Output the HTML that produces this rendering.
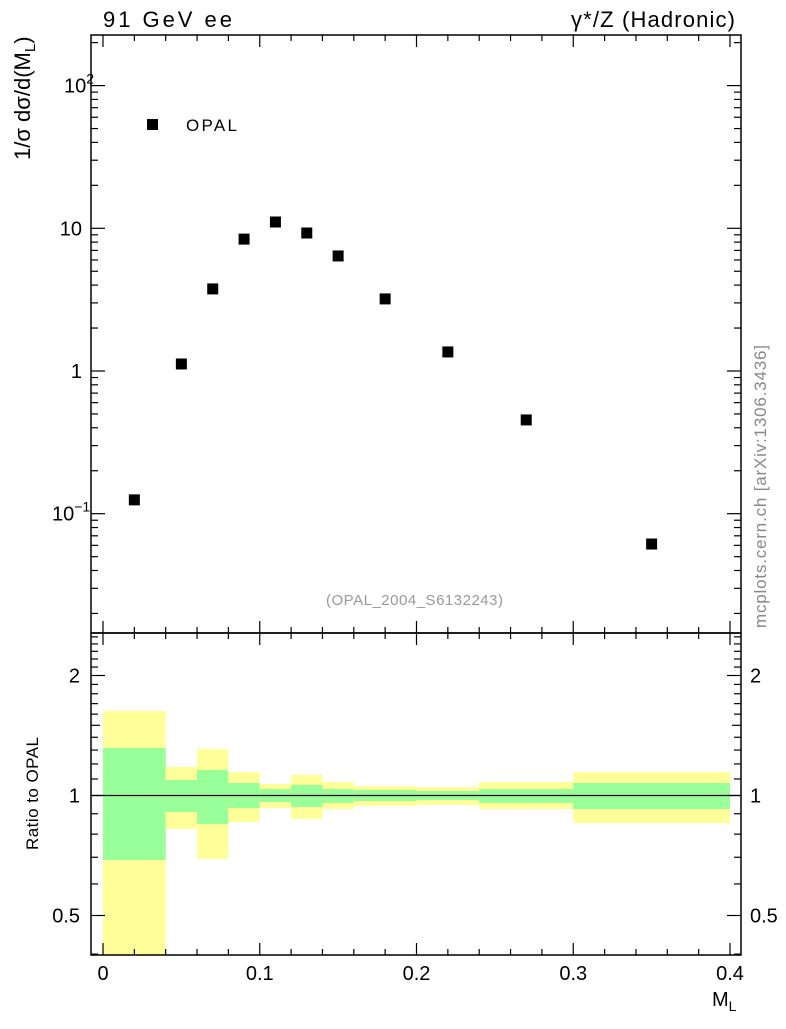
<!DOCTYPE html>
<html><head><meta charset="utf-8"><style>
body{margin:0;background:#fff}
text{font-family:"Liberation Sans",sans-serif}
</style></head><body>
<svg id="c" width="786" height="1024" xmlns="http://www.w3.org/2000/svg">
<g id="bands"></g>
<g id="ticks"></g>
<g id="pts"></g>
<rect x="91" y="35" width="650" height="598" fill="none" stroke="#000" stroke-width="1.5"/>
<rect x="91" y="633" width="650" height="322" fill="none" stroke="#000" stroke-width="1.5"/>
<line x1="91" x2="741" y1="795.5" y2="795.5" stroke="#000" stroke-width="1.3"/>
<text x="103" y="27" font-size="22" textLength="129">91 GeV ee</text>
<text x="571" y="27" font-size="22" textLength="164">γ*/Z (Hadronic)</text>
<rect x="147" y="119" width="11" height="11" fill="#000"/>
<text x="186" y="131" font-size="17" textLength="51">OPAL</text>
<text x="326" y="605" font-size="15" fill="#999" textLength="177">(OPAL_2004_S6132243)</text>
<text transform="translate(766,628) rotate(-90)" font-size="17" fill="#888" textLength="283">mcplots.cern.ch [arXiv:1306.3436]</text>
<text transform="translate(30,160) rotate(-90)" font-size="22">1/σ dσ/d(M<tspan font-size="15" dy="5">L</tspan><tspan dy="-5">)</tspan></text>
<text transform="translate(38,850) rotate(-90)" font-size="17" textLength="113">Ratio to OPAL</text>
<text x="712" y="1006" font-size="20">M<tspan font-size="14" dy="5">L</tspan></text>
</svg>
<script>
const xCats=[0.02,0.05,0.07,0.09,0.11,0.13,0.15,0.18,0.22,0.27,0.35];
const yVals=[0.125,1.12,3.76,8.4,11.07,9.27,6.4,3.2,1.36,0.454,0.0613];
const binEdges=[0,0.04,0.06,0.08,0.1,0.12,0.14,0.16,0.2,0.24,0.3,0.4];
const yelHi=[1.63,1.179,1.308,1.145,1.069,1.126,1.081,1.056,1.05,1.081,1.145];
const grnHi=[1.316,1.094,1.159,1.075,1.038,1.063,1.038,1.032,1.026,1.038,1.075];
const grnLo=[0.689,0.909,0.848,0.930,0.963,0.936,0.958,0.969,0.974,0.958,0.925];
const yelLo=[0.3,0.824,0.693,0.858,0.930,0.873,0.925,0.941,0.947,0.925,0.853];
const xTicks=[0,0.1,0.2,0.3,0.4];
const xTickLabels=["0","0.1","0.2","0.3","0.4"];
const ns="http://www.w3.org/2000/svg";
const X=v=>103+v*1567.5;
const Y=v=>371-142.7*Math.log10(v);
const R=v=>Math.min(955,Math.max(633,795.5-120*Math.log2(v)));
function mk(tag,at,parent){const e=document.createElementNS(ns,tag);for(const k in at)e.setAttribute(k,at[k]);parent.appendChild(e);return e;}
const bands=document.getElementById('bands'),pts=document.getElementById('pts'),tk=document.getElementById('ticks');
for(let i=0;i<binEdges.length-1;i++){
 const x0=X(binEdges[i]),w=X(binEdges[i+1])-x0;
 let e=mk('rect',{x:x0,y:R(yelHi[i]),width:w,height:R(yelLo[i])-R(yelHi[i]),fill:'#ffff99'},bands);
 
 
 e=mk('rect',{x:x0,y:R(grnHi[i]),width:w,height:R(grnLo[i])-R(grnHi[i]),fill:'#99ff99'},bands);
 
 
}
for(let i=0;i<xCats.length;i++){
 const e=mk('rect',{x:X(xCats[i])-5.5,y:Y(yVals[i])-5.5,width:11,height:11,fill:'#000'},pts);
 
 
}
const st={stroke:'#000','stroke-width':1.2};
function ln(x1,y1,x2,y2){mk('line',Object.assign({x1,y1,x2,y2},st),tk);}
for(let v=0;v<=0.4001;v+=0.02){const x=X(v);const major=Math.abs(v*10-Math.round(v*10))<1e-6;const L=major?12:6;
 ln(x,633,x,633-L);ln(x,35,x,35+L);ln(x,955,x,955-L);ln(x,633,x,633+L);}
xTicks.forEach((v,i)=>{const t=mk('text',{x:X(v),y:980,'font-size':20,'text-anchor':'middle'},tk);t.textContent=xTickLabels[i];
 
 });
for(let d=-2;d<=2;d++)for(let m=1;m<10;m++){const v=m*Math.pow(10,d);const y=Y(v);if(y<35||y>633)continue;const L=m==1?14:7;ln(91,y,91+L,y);ln(741,y,741-L,y);}
const yl=[[100,'10',"2"],[10,'10',null],[1,'1',null],[0.1,'10',"−1"]];
yl.forEach(a=>{const t=mk('text',{x:82,y:Y(a[0])+7,'font-size':20,'text-anchor':'end'},tk);
 
 
 if(a[2]){t.setAttribute('x',a[0]==100?64:52);t.setAttribute('text-anchor','start');t.textContent='10';const s=mk('tspan',{dy:-9,'font-size':14},t);s.textContent=a[2];}
 else t.textContent=a[1];});
for(let k=4;k<=25;k++){const v=k/10;const y=R(v);const L=(k==5||k==10||k==20)?14:(k==15?9:7);ln(91,y,91+L,y);ln(741,y,741-L,y);}
[[2,'2'],[1,'1'],[0.5,'0.5']].forEach(a=>{
 let t=mk('text',{x:80,y:R(a[0])+7,'font-size':20,'text-anchor':'end'},tk);t.textContent=a[1];
 
 
 t=mk('text',{x:750,y:R(a[0])+7,'font-size':20},tk);t.textContent=a[1];
 
 });
</script>
</body></html>
